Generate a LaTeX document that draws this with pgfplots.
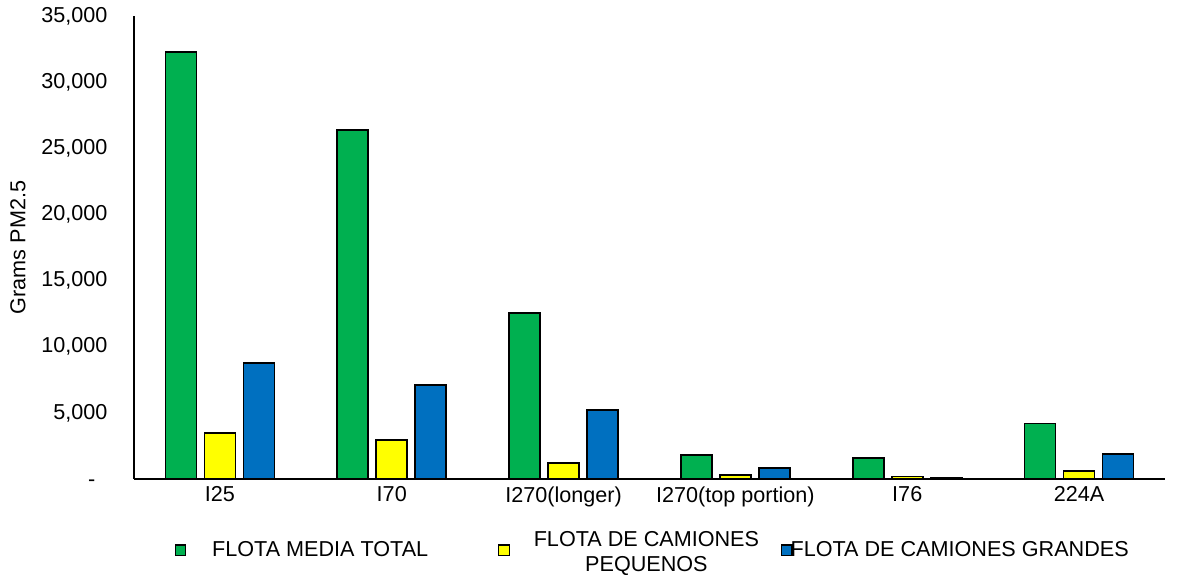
\documentclass[border=0pt]{standalone}
\usepackage{fontspec}
\setmainfont{Liberation Sans}
\usepackage{pgfplots}
\pgfplotsset{compat=1.18}
\definecolor{cgreen}{HTML}{00B050}
\definecolor{cyellow}{HTML}{FFFF00}
\definecolor{cblue}{HTML}{0070C0}

\pgfplotsset{
  mybar/.style={ybar, bar width=15.5pt, draw=black, line width=0.8pt,
    legend image code/.code={\draw[##1, line width=0.6pt] (0pt,-2.6pt) rectangle (5.2pt,2.6pt);}},
}

\begin{document}
\fontsize{10.8}{12.5}\selectfont
\begin{tikzpicture}
\begin{axis}[
    scale only axis,
    width=515.5pt, height=231.5pt,
    xmin=-0.5, xmax=5.5,
    ymin=0, ymax=35000,
    scaled y ticks=false,
    axis lines*=left,
    axis line style={line width=1pt},
    major tick length=0pt,
    xtick={0,...,5},
    xticklabels={I25,I70,I270(longer),I270(top portion),I76,224A},
    ytick={0,5000,10000,15000,20000,25000,30000,35000},
    yticklabels={-\phantom{0},{5,000},{10,000},{15,000},{20,000},{25,000},{30,000},{35,000}},
    yticklabel style={xshift=-9.5pt},
    tick label style={font=\fontsize{10.8}{12.5}\selectfont},
    ylabel={Grams PM2.5},
    ylabel style={at={(axis description cs:-0.1125,0.5)}, anchor=center, font=\fontsize{10.8}{12.5}\selectfont},
    legend columns=3,
    legend style={at={(0.504,-0.0905)}, anchor=north, draw=none, fill=none,
      font=\fontsize{10.8}{12.5}\selectfont,
      /tikz/every even column/.append style={column sep=0pt}},
]
\addplot[mybar, bar shift=-19.5pt, fill=cgreen] coordinates
  {(0,32300) (1,26400) (2,12550) (3,1810) (4,1570) (5,4200)};
\addlegendentry{\kern11pt FLOTA MEDIA TOTAL\kern33pt}
\addplot[mybar, bar shift=0pt, fill=cyellow] coordinates
  {(0,3480) (1,2950) (2,1200) (3,300) (4,200) (5,600)};
\addlegendentry{\kern10pt\raisebox{4pt}{\begin{tabular}{@{}c@{}}FLOTA DE CAMIONES\\PEQUENOS\end{tabular}}\kern9pt}
\addplot[mybar, bar shift=19.5pt, fill=cblue] coordinates
  {(0,8770) (1,7100) (2,5200) (3,850) (4,120) (5,1890)};
\addlegendentry{\kern-3pt FLOTA DE CAMIONES GRANDES}
\end{axis}
\pgfresetboundingbox
\path ([xshift=-67pt,yshift=-48pt]current axis.south west)
  rectangle ([xshift=8.5pt,yshift=8pt]current axis.north east);
\end{tikzpicture}
\end{document}
